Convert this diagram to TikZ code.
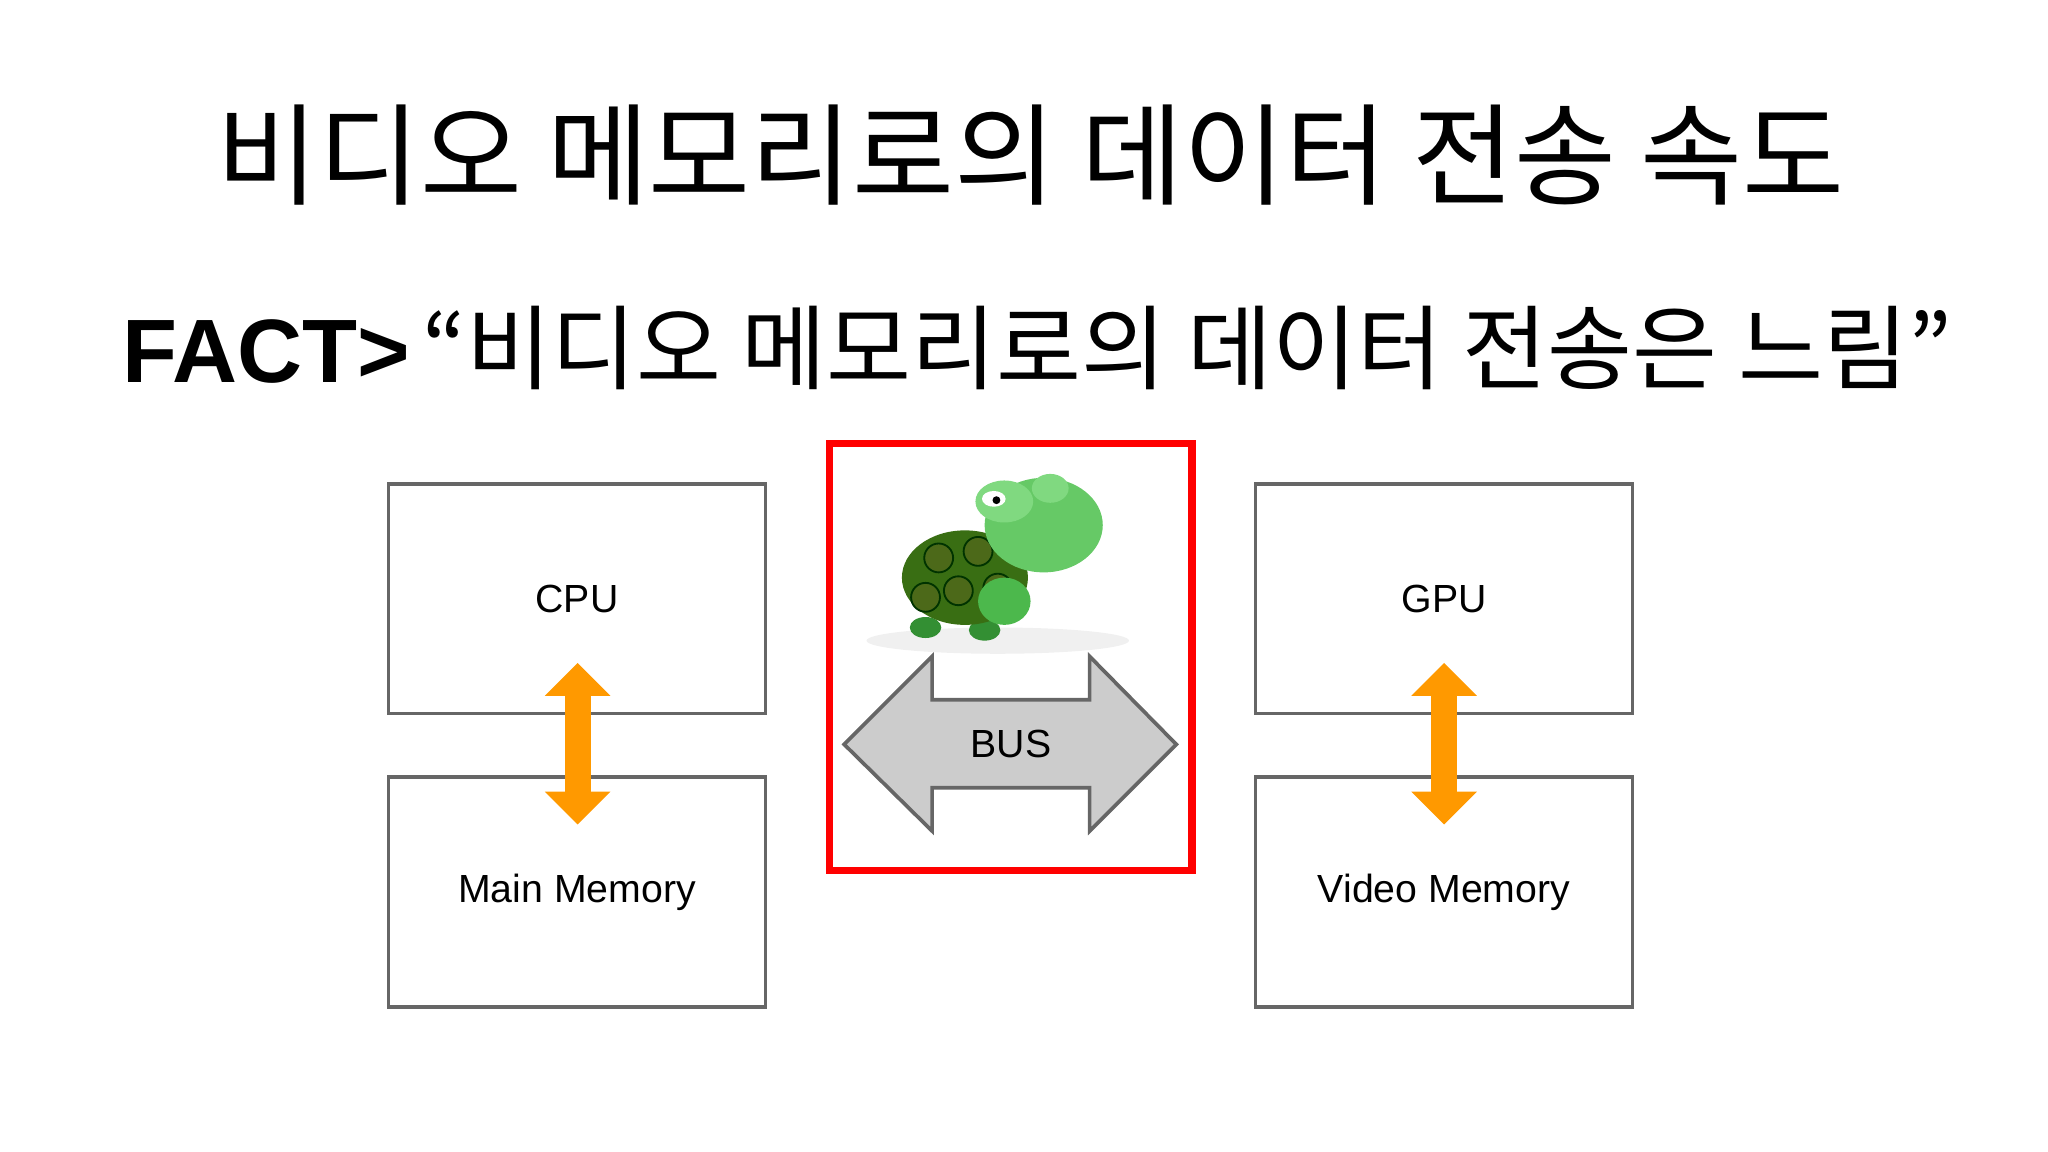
\documentclass[tikz,border=0pt]{standalone}
\usepackage{fontspec}
\setmainfont{Liberation Sans}
\newfontfamily\cjk{Noto Sans CJK KR}
\definecolor{boxgray}{HTML}{666666}
\definecolor{orng}{HTML}{FF9900}
\definecolor{busgray}{HTML}{CCCCCC}
\begin{document}
\begin{tikzpicture}[x=0.01cm,y=-0.01cm,
  unitbox/.style={draw=boxgray,line width=0.8pt,minimum width=2.87cm,minimum height=1.75cm,inner sep=0pt,font=\fontsize{8.5pt}{10pt}\selectfont},
  oarrow/.style={fill=orng,draw=none}]
\useasboundingbox (0,0) rectangle (1560,877);
\node (title) at (785,118) {\cjk\fontsize{24pt}{30pt}\selectfont 비디오 메모리로의 데이터 전송 속도};
\node (fact) at (790,265) {{\fontsize{19.5pt}{22pt}\selectfont\bfseries FACT>} {\cjk\fontsize{20pt}{22pt}\selectfont “비디오 메모리로의 데이터 전송은 느림”}};
\node[unitbox] (cpu) at (439.5,456) {CPU};
\node[unitbox] (mm) at (439.5,679.5) {Main Memory};
\node[unitbox] (gpu) at (1100,456) {GPU};
\node[unitbox] (vm) at (1100,679.5) {Video Memory};
\node[draw=red,line width=1.6pt,minimum width=2.76cm,minimum height=3.25cm,inner sep=0pt] (redbox) at (770,500.5) {};
% orange arrows
\foreach \cx in {440,1100}{
 \fill[orng] (\cx-10,530) rectangle (\cx+10,603);
 \fill[orng] (\cx,505) -- (\cx+25,530) -- (\cx-25,530) -- cycle;
 \fill[orng] (\cx,628) -- (\cx+25,603) -- (\cx-25,603) -- cycle;
}
% bus arrow
\draw[fill=busgray,draw=boxgray,line width=0.8pt] (643,567) -- (710,500) -- (710,533) -- (830,533) -- (830,500) -- (896,567) -- (830,633) -- (830,600) -- (710,600) -- (710,633) -- cycle;
\node[font=\fontsize{8.5pt}{10pt}\selectfont] (bus) at (770,567) {BUS};
% turtle
\fill[gray!12] (760,488) ellipse (100 and 10);
\fill[green!45!black!80] (705,478) ellipse (12 and 8);
\fill[green!45!black!80] (750,480) ellipse (12 and 8);
\fill[green!40!black!70!brown] (735,440) ellipse (48 and 36);
\foreach \a/\b in {715/425,745/420,730/450,760/448,705/455}{\draw[green!20!black,fill=green!35!black!60!brown] (\a,\b) circle (11);}
\fill[green!60!black!70] (765,458) ellipse (20 and 18);
\fill[green!65!black!60] (795,400) ellipse (45 and 36);
\fill[green!70!black!50] (765,382) ellipse (22 and 16);
\fill[white] (757,380) ellipse (9 and 6);
\fill[black] (759,381) circle (3);
\fill[green!70!black!50] (800,372) ellipse (14 and 11);
\end{tikzpicture}
\end{document}
